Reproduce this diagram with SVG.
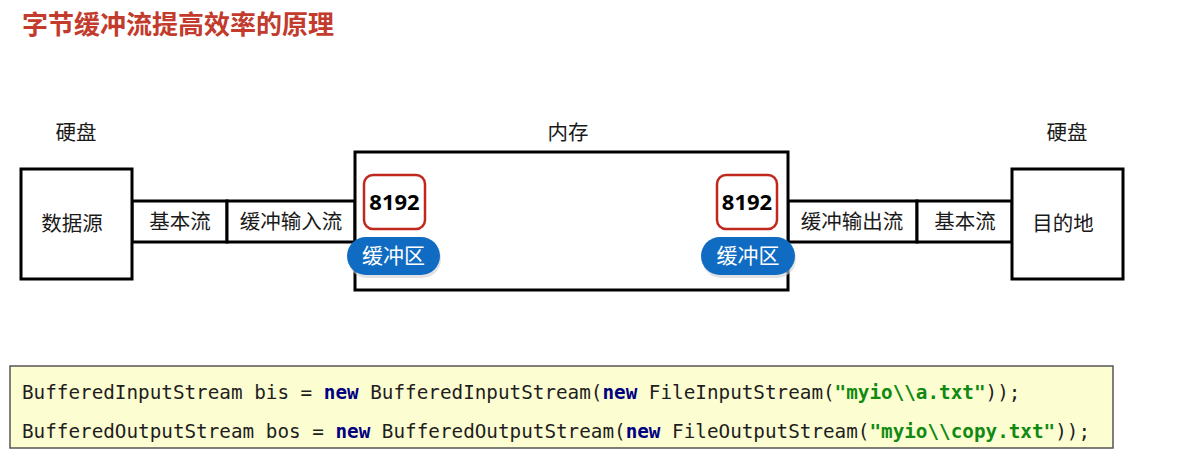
<svg xmlns="http://www.w3.org/2000/svg" width="1184" height="466" viewBox="0 0 1184 466">
  <defs>
    <style>
      .cn { font-family: "Noto Sans CJK SC", "Noto Sans", sans-serif; fill: #1a1a1a; font-size: 20.5px; }
      .box { fill: #ffffff; stroke: #000000; stroke-width: 3; }
      .num { fill: #ffffff; stroke: #c0281e; stroke-width: 2.5; }
      .numt { font-family: "Noto Sans", "DejaVu Sans", sans-serif; font-weight: bold; font-size: 22px; fill: #000000; }
      .pill { fill: #0f6cc2; }
      .pillshadow { fill: #cfcfcf; }
      .pillt { font-family: "Noto Sans CJK SC", sans-serif; font-size: 21px; fill: #ffffff; }
      .code { font-family: "DejaVu Sans Mono", monospace; font-size: 19.3px; fill: #1e1e1e; }
      .kw { fill: #000080; font-weight: bold; }
      .str { fill: #118a11; font-weight: bold; }
    </style>
  </defs>
  <rect width="1184" height="466" fill="#ffffff"/>

  <text x="22" y="34" font-family="Noto Sans CJK SC, sans-serif" font-size="26" font-weight="bold" fill="#c23b2d">字节缓冲流提高效率的原理</text>

  <g id="labels">
    <text class="cn" x="76" y="140" text-anchor="middle">硬盘</text>
    <text class="cn" x="568" y="140" text-anchor="middle">内存</text>
    <text class="cn" x="1067" y="140" text-anchor="middle">硬盘</text>
  </g>

  <g id="connectors">
    <g id="left-streams">
      <rect class="box" x="132" y="201" width="95" height="41"/>
      <text class="cn" x="180" y="229" text-anchor="middle">基本流</text>
      <rect class="box" x="227" y="201" width="128" height="41"/>
      <text class="cn" x="291" y="229" text-anchor="middle">缓冲输入流</text>
    </g>
    <g id="right-streams">
      <rect class="box" x="788" y="201" width="129" height="41"/>
      <text class="cn" x="852" y="229" text-anchor="middle">缓冲输出流</text>
      <rect class="box" x="917" y="201" width="95" height="41"/>
      <text class="cn" x="965" y="229" text-anchor="middle">基本流</text>
    </g>
  </g>

  <g id="source">
    <rect class="box" x="21" y="169" width="111" height="110"/>
    <text class="cn" x="72" y="231" text-anchor="middle">数据源</text>
  </g>

  <g id="memory">
    <rect class="box" x="355" y="152" width="433" height="138"/>
  </g>

  <g id="dest">
    <rect class="box" x="1012" y="169" width="111" height="110"/>
    <text class="cn" x="1063" y="231" text-anchor="middle">目的地</text>
  </g>

  <g id="buffer-in">
    <rect class="num" x="364" y="175" width="61" height="54" rx="9"/>
    <text class="numt" x="394.5" y="210" text-anchor="middle">8192</text>
    <rect class="pillshadow" x="348" y="240" width="93" height="38" rx="19" opacity="0.6"/>
    <rect class="pill" x="347" y="237" width="93" height="38" rx="19"/>
    <text class="pillt" x="393.5" y="263" text-anchor="middle">缓冲区</text>
  </g>

  <g id="buffer-out">
    <rect class="num" x="717" y="175" width="60" height="54" rx="9"/>
    <text class="numt" x="747" y="210" text-anchor="middle">8192</text>
    <rect class="pillshadow" x="702" y="240" width="94" height="38" rx="19" opacity="0.6"/>
    <rect class="pill" x="701" y="237" width="94" height="38" rx="19"/>
    <text class="pillt" x="748" y="263" text-anchor="middle">缓冲区</text>
  </g>

  <g id="code">
    <rect x="10" y="366" width="1103" height="82" fill="#fdfdd2" stroke="#555555" stroke-width="1.5"/>
    <text class="code" x="22" y="399" xml:space="preserve">BufferedInputStream bis = <tspan class="kw">new</tspan> BufferedInputStream(<tspan class="kw">new</tspan> FileInputStream(<tspan class="str">"myio\\a.txt"</tspan>));</text>
    <text class="code" x="22" y="438" xml:space="preserve">BufferedOutputStream bos = <tspan class="kw">new</tspan> BufferedOutputStream(<tspan class="kw">new</tspan> FileOutputStream(<tspan class="str">"myio\\copy.txt"</tspan>));</text>
  </g>
</svg>
